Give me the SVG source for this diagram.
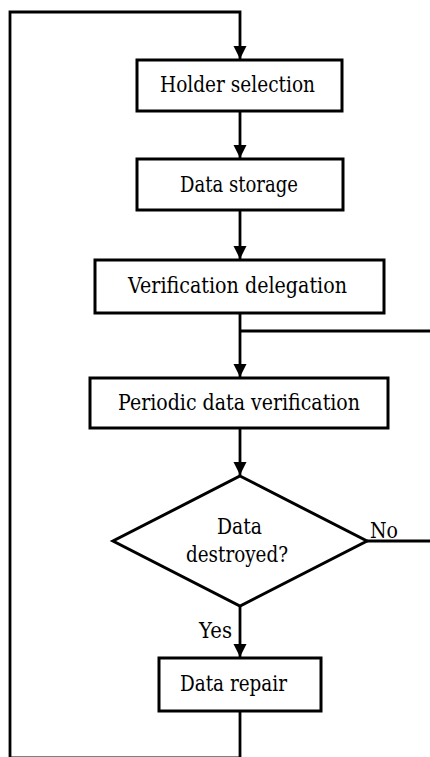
<svg xmlns="http://www.w3.org/2000/svg" width="430" height="757" viewBox="0 0 430 757">
<style>
.box{fill:#fff;stroke:#000;stroke-width:3}
.ln{fill:none;stroke:#000;stroke-width:2.8}
text{font-family:'DejaVu Serif',serif;fill:#000;font-size:22.5px}
.t{text-anchor:middle}
</style>
<defs>
<marker id="ah" markerUnits="userSpaceOnUse" markerWidth="14" markerHeight="14" refX="13" refY="7" orient="auto">
<path d="M0,0.5 L13,7 L0,13.5 z" fill="#000"/>
</marker>
</defs>
<rect width="430" height="757" fill="#fff"/>
<g id="connectors">
<path class="ln" d="M240,758 L10,758 L10,12 L240,12 L240,59" marker-end="url(#ah)"/>
<path class="ln" d="M240,711 L240,758"/>
<path class="ln" d="M240,111 L240,158" marker-end="url(#ah)"/>
<path class="ln" d="M240,210 L240,259" marker-end="url(#ah)"/>
<path class="ln" d="M240,313 L240,377" marker-end="url(#ah)"/>
<path class="ln" d="M240,331 L432,331"/>
<path class="ln" d="M240,428 L240,475" marker-end="url(#ah)"/>
<path class="ln" d="M367,541 L432,541"/>
<path class="ln" d="M240,606 L240,657" marker-end="url(#ah)"/>
<text x="370" y="538" textLength="28" lengthAdjust="spacingAndGlyphs">No</text>
<text x="199" y="638" textLength="33" lengthAdjust="spacingAndGlyphs">Yes</text>
</g>
<g id="holder-selection">
<rect class="box" x="137" y="60" width="205" height="51"/>
<text class="t" x="237.5" y="92" textLength="155" lengthAdjust="spacingAndGlyphs">Holder selection</text>
</g>
<g id="data-storage">
<rect class="box" x="137" y="159" width="206" height="51"/>
<text class="t" x="239" y="192" textLength="118" lengthAdjust="spacingAndGlyphs">Data storage</text>
</g>
<g id="verification-delegation">
<rect class="box" x="95" y="260" width="289" height="53"/>
<text class="t" x="237.5" y="293" textLength="219" lengthAdjust="spacingAndGlyphs">Verification delegation</text>
</g>
<g id="periodic-data-verification">
<rect class="box" x="90" y="378" width="298" height="50"/>
<text class="t" x="239" y="410" textLength="242" lengthAdjust="spacingAndGlyphs">Periodic data verification</text>
</g>
<g id="data-destroyed">
<polygon class="box" points="240,476 367,541 240,606 113,541"/>
<text class="t" x="239.5" y="534" textLength="45" lengthAdjust="spacingAndGlyphs">Data</text>
<text class="t" x="237" y="562" textLength="102" lengthAdjust="spacingAndGlyphs">destroyed?</text>
</g>
<g id="data-repair">
<rect class="box" x="159" y="658" width="162" height="53"/>
<text class="t" x="233.5" y="691" textLength="107" lengthAdjust="spacingAndGlyphs">Data repair</text>
</g>
</svg>
